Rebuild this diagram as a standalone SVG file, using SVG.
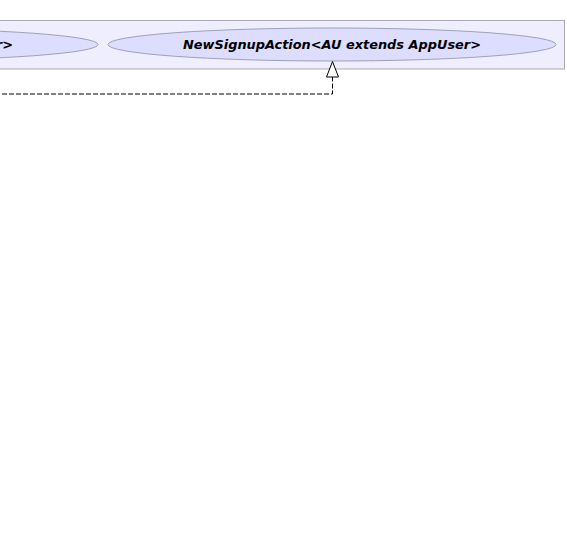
<svg xmlns="http://www.w3.org/2000/svg" width="567" height="535" viewBox="0 0 567 535">
<style>
.pkg{fill:#EEEEFF;stroke:#A8A8B8;stroke-width:1}
.uc{fill:#DDDDFF;stroke:#A0A0B8;stroke-width:1}
.lbl{font-family:"DejaVu Sans",sans-serif;font-size:12.9px;font-weight:bold;font-style:italic;fill:#000}
.edge{fill:none;stroke:#000;stroke-width:1;stroke-dasharray:5,2}
.head{fill:#fff;stroke:#000;stroke-width:1}
</style>
<rect width="567" height="535" fill="#fff"/>
<g id="package">
<rect class="pkg" x="-10" y="20.5" width="574.5" height="48.5"/>
</g>
<g id="node-left">
<ellipse class="uc" cx="-126" cy="44.5" rx="224" ry="16"/>
<text class="lbl" x="13" y="49" text-anchor="end">r&gt;</text>
</g>
<g id="node-newsignup">
<ellipse class="uc" cx="332" cy="44.5" rx="224" ry="16.5"/>
<text class="lbl" x="332" y="49" text-anchor="middle">NewSignupAction&lt;AU extends AppUser&gt;</text>
</g>
<g id="connectors">
<polyline class="edge" points="-5,94 332.5,94 332.5,77"/>
<polygon class="head" points="332.5,61.5 326.5,77 338.5,77"/>
</g>
</svg>
